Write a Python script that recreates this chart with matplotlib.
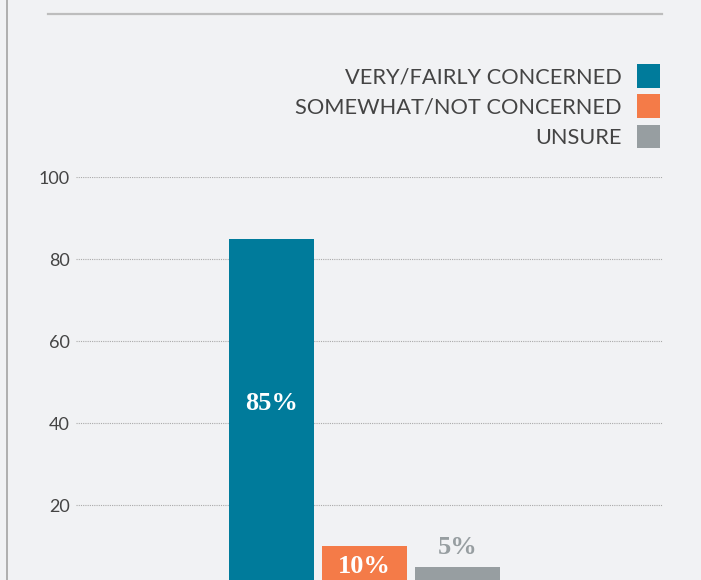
import matplotlib.pyplot as plt
from matplotlib.lines import Line2D

# datos
categorias = ['VERY/FAIRLY CONCERNED', 'SOMEWHAT/NOT CONCERNED', 'UNSURE']
valores = [85, 10, 5]
colores = ['#007b9b', '#f47b48', '#979ea1']
etiquetas = ['85%', '10%', '5%']
yticks = [20, 40, 60, 80, 100]

fondo = '#f1f2f4'
texto = '#444444'

fig = plt.figure(figsize=(7.01, 5.80), dpi=100, facecolor=fondo)
W, H = 701, 580

# eje: y=0 queda por debajo del borde inferior (grafico recortado)
ax = fig.add_axes([76 / W, (H - 587) / H, (663 - 76) / W, (587 - 177) / H])
ax.set_facecolor(fondo)

x = [0, 1, 2]
bars = ax.bar(x, valores, width=85 / 93, color=colores, zorder=3)
for i, b in enumerate(bars):
    b.set_label(categorias[i])

ax.set_xlim(-2.102, 4.2097)
ax.set_ylim(0, 100)
ax.set_yticks(yticks)
ax.set_xticks([])
ax.tick_params(axis='y', length=0, pad=4.5, labelsize=13, labelcolor=texto)
for lbl in ax.get_yticklabels():
    lbl.set_fontfamily('Lato')
ax.grid(axis='y', linestyle=(0, (1, 1)), color='#aaaaaa', linewidth=0.8, zorder=0)
for s in ax.spines.values():
    s.set_visible(False)

# etiquetas de valor
serif = dict(family='Liberation Serif', weight='bold', fontsize=19)
ax.annotate(etiquetas[0], (0, valores[0] / 2), xytext=(0, 9), textcoords='offset pixels',
            ha='center', va='center', color='white', zorder=4, **serif)
ax.annotate(etiquetas[1], (1, valores[1]), xytext=(0, -9), textcoords='offset pixels',
            ha='center', va='top', color='white', zorder=4, **serif)
ax.annotate(etiquetas[2], (2, valores[2]), xytext=(0, 8), textcoords='offset pixels',
            ha='center', va='bottom', color=colores[2], zorder=4, **serif)

# leyenda
leg = ax.legend(loc='upper right', bbox_to_anchor=(660 / W, (H - 64) / H),
                bbox_transform=fig.transFigure, frameon=False, markerfirst=False,
                prop={'family': 'Lato', 'size': 15.7},
                handlelength=1.06, handleheight=1.3, handletextpad=0.7,
                labelspacing=0.3, borderpad=0, borderaxespad=0)
for t in leg.get_texts():
    t.set_color(texto)

# lineas decorativas
fig.add_artist(Line2D([48 / W, 662 / W], [1 - 14 / H] * 2, color='#bdbdbd', linewidth=1.6))
fig.add_artist(Line2D([6.5 / W, 6.5 / W], [0, 1], color='#a3a3a3', linewidth=1.2))

fig.savefig('out.png', dpi=100, facecolor=fondo)
